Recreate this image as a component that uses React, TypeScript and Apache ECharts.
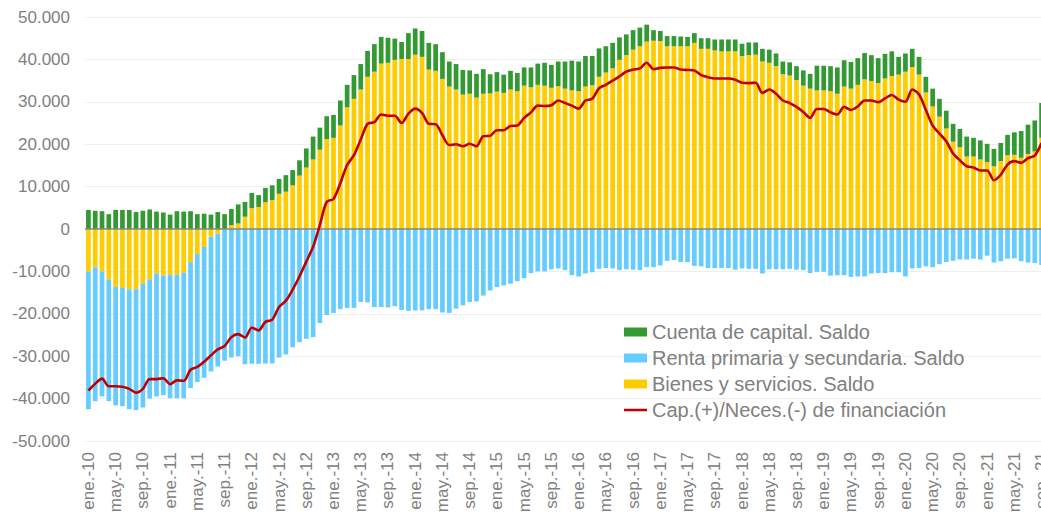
import React, { useEffect, useRef } from "react";
import * as echarts from "echarts";

const MONTHS = ["ene.", "feb.", "mar.", "abr.", "may.", "jun.", "jul.", "ago.", "sep.", "oct.", "nov.", "dic."];
const YEARS = ["10", "11", "12", "13", "14", "15", "16", "17", "18", "19", "20", "21"];
const N_MONTHS = 141; // ene.-10 .. sep.-21

// Values in thousands of millions (axis shows x1000 with Spanish thousands separator)
const bienesServicios = [
  -10.0, -9.0, -10.0, -11.9, -13.6, -13.9, -14.2, -14.2, -12.9, -11.9, -10.5, -11.0,
  -10.8, -10.8, -10.3, -7.8, -5.9, -4.2, -1.8, -1.1, -0.2, 0.9, 1.3, 2.9,
  4.9, 5.2, 6.3, 6.8, 8.3, 8.8, 10.3, 12.6, 14.5, 16.4, 18.7, 21.2,
  21.5, 24.4, 28.7, 30.7, 32.9, 35.9, 37.1, 39.0, 39.2, 39.9, 40.1, 40.1,
  41.1, 40.6, 37.6, 37.3, 35.4, 33.6, 32.9, 31.7, 31.9, 31.0, 31.9, 32.0,
  32.4, 32.1, 32.9, 32.5, 33.8, 33.4, 34.0, 33.8, 33.3, 33.7, 33.1, 32.7,
  32.5, 33.6, 33.9, 35.9, 36.9, 37.9, 39.9, 41.0, 42.3, 43.1, 44.2, 44.4,
  44.3, 43.1, 43.1, 43.1, 43.1, 43.9, 42.5, 42.5, 42.1, 41.9, 41.9, 41.9,
  40.8, 41.0, 41.1, 39.5, 39.2, 38.4, 36.5, 36.2, 35.1, 33.8, 33.1, 32.7,
  32.7, 32.5, 31.9, 33.6, 33.1, 34.0, 35.3, 34.9, 34.4, 35.5, 36.1, 36.4,
  37.1, 38.2, 36.4, 32.2, 28.9, 26.5, 23.7, 20.6, 19.3, 17.1, 17.1, 16.4,
  15.8, 14.8, 16.0, 17.4, 17.5, 16.8, 17.7, 18.3, 21.5,
];

const rentaPrimariaSecundaria = [
  -32.5, -31.6, -29.5, -28.7, -28.0, -27.9, -28.3, -28.5, -29.2, -28.1, -29.0, -28.2,
  -29.1, -29.1, -29.6, -29.7, -30.2, -30.9, -31.8, -31.3, -30.9, -30.3, -30.0, -31.9,
  -31.8, -31.8, -31.7, -31.7, -30.3, -29.6, -27.9, -26.7, -25.9, -25.5, -22.2, -20.3,
  -19.8, -18.9, -18.6, -18.6, -17.2, -17.3, -18.4, -18.4, -18.5, -18.2, -19.1, -19.3,
  -19.2, -19.2, -18.9, -18.9, -19.7, -19.8, -18.8, -18.0, -17.2, -17.1, -15.7, -14.5,
  -13.7, -13.3, -12.9, -12.3, -11.6, -10.4, -10.0, -10.0, -9.5, -9.3, -9.7, -10.9,
  -11.2, -10.5, -10.2, -9.4, -9.2, -9.3, -9.7, -9.5, -9.6, -9.7, -9.0, -9.0,
  -8.6, -7.5, -7.3, -7.8, -7.8, -8.7, -8.8, -9.2, -9.2, -9.2, -9.2, -9.6,
  -9.3, -9.4, -9.4, -10.5, -9.5, -9.5, -9.5, -9.4, -9.6, -9.7, -10.4, -10.1,
  -10.1, -11.0, -10.9, -10.9, -11.3, -11.2, -11.2, -10.5, -10.4, -10.4, -10.2, -10.2,
  -11.2, -9.3, -9.2, -8.8, -9.0, -8.3, -7.8, -7.5, -7.2, -7.2, -7.0, -7.2,
  -6.3, -7.9, -7.6, -7.0, -6.9, -7.6, -7.9, -8.0, -8.5,
];

const cuentaCapital = [
  4.5, 4.3, 4.2, 3.5, 4.5, 4.5, 4.5, 4.0, 4.3, 4.6, 4.1, 3.9,
  3.4, 4.2, 4.1, 4.2, 3.5, 3.6, 3.4, 4.0, 3.5, 3.8, 4.5, 3.5,
  3.6, 2.8, 3.4, 3.5, 3.5, 3.9, 3.6, 3.6, 4.5, 5.4, 5.2, 5.4,
  5.4, 5.9, 5.3, 5.6, 6.0, 6.1, 6.5, 6.3, 5.9, 5.0, 4.0, 6.1,
  6.2, 6.1, 6.3, 6.3, 6.3, 5.9, 6.0, 5.8, 5.5, 5.6, 5.8, 4.5,
  4.6, 4.3, 4.4, 4.3, 4.3, 4.7, 5.0, 5.4, 5.4, 5.8, 6.4, 7.0,
  7.0, 7.2, 6.9, 6.7, 6.2, 6.0, 5.3, 4.9, 4.6, 4.4, 4.0, 2.5,
  2.4, 2.4, 2.4, 2.3, 2.2, 2.3, 2.5, 2.5, 2.6, 2.8, 2.8, 2.8,
  2.9, 3.0, 2.9, 3.0, 3.1, 3.0, 3.0, 3.1, 3.3, 3.6, 3.5, 5.8,
  5.8, 5.9, 6.2, 6.2, 6.3, 6.3, 6.2, 6.1, 5.9, 5.8, 5.8, 4.2,
  4.3, 4.3, 4.2, 3.7, 4.2, 4.2, 4.2, 4.2, 4.3, 4.7, 4.4, 4.5,
  4.3, 4.1, 4.3, 4.8, 5.3, 6.3, 6.9, 7.3, 8.2,
];

const capNecFinanciacion = [
  -38.1, -36.5, -35.3, -37.1, -37.1, -37.2, -37.7, -38.6, -37.7, -35.4, -35.4, -35.2,
  -36.6, -35.7, -35.8, -33.2, -32.5, -31.3, -29.8, -28.4, -27.6, -25.5, -24.8, -25.6,
  -23.3, -23.9, -21.9, -21.4, -18.4, -16.9, -14.3, -11.2, -7.7, -4.2, 1.0, 6.4,
  7.1, 10.8, 15.1, 17.4, 21.1, 24.8, 25.2, 27.0, 26.7, 26.7, 25.0, 27.2,
  28.4, 27.4, 24.8, 24.7, 22.1, 19.8, 20.0, 19.5, 20.1, 19.5, 21.9, 22.0,
  23.3, 23.3, 24.3, 24.4, 26.2, 27.5, 29.1, 29.0, 29.2, 30.3, 29.7, 29.1,
  28.4, 30.3, 30.7, 33.2, 34.0, 35.0, 36.0, 37.1, 37.6, 37.9, 39.2, 37.7,
  38.0, 38.1, 38.1, 37.6, 37.5, 37.4, 36.3, 35.8, 35.5, 35.5, 35.5, 35.2,
  34.5, 34.4, 34.5, 32.1, 32.9, 31.9, 30.3, 29.7, 28.8, 27.6, 26.2, 28.3,
  28.3, 27.5, 27.0, 28.8, 28.1, 28.9, 30.3, 30.3, 29.9, 30.8, 31.6, 30.5,
  30.0, 32.9, 31.7, 28.1, 24.4, 22.5, 20.7, 17.8, 16.2, 14.8, 14.5, 13.8,
  13.8, 11.5, 12.8, 15.2, 16.0, 15.6, 16.7, 17.3, 20.3,
];

const SERIES_NAMES = {
  cuenta: "Cuenta de capital. Saldo",
  renta: "Renta primaria y secundaria. Saldo",
  bienes: "Bienes y servicios. Saldo",
  cap: "Cap.(+)/Neces.(-) de financiación",
};

const Y_MIN = -50;
const Y_MAX = 50;
const Y_INTERVAL = 10;

function buildCategories(): string[] {
  const cats: string[] = [];
  for (let i = 0; i < N_MONTHS; i++) {
    cats.push(MONTHS[i % 12] + "-" + YEARS[Math.floor(i / 12)]);
  }
  return cats;
}

function fmtThousands(v: number): string {
  const n = Math.round(v * 1000);
  if (n === 0) return "0";
  const s = Math.abs(n).toString().replace(/\B(?=(\d{3})+(?!\d))/g, ".");
  return (n < 0 ? "-" : "") + s;
}

const FONT = "'Liberation Sans', Arial, Helvetica, sans-serif";
const TEXT_COLOR = "#808080";
// thin horizontal bar spanning a 23x9 box (tiny corner points fix the bounding box)
const LINE_ICON = "path://M0,0L0.01,0L0.01,0.01Z M0,3.2H23V5.8H0Z M23,9L22.99,9L22.99,8.99Z";

export default function App() {
  const ref = useRef<HTMLDivElement>(null);

  useEffect(() => {
    if (!ref.current) return;
    const chart = echarts.init(ref.current, undefined, { renderer: "svg" });
    const categories = buildCategories();

    chart.setOption({
      animation: false,
      backgroundColor: "#ffffff",
      grid: {
        left: 85,
        top: 17,
        width: 960,
        bottom: 75,
        containLabel: false,
        outerBoundsMode: "none",
      },
      legend: {
        orient: "vertical",
        left: 624,
        top: 322,
        padding: 0,
        itemWidth: 23,
        itemHeight: 9,
        itemGap: 6,
        textStyle: { fontSize: 20, lineHeight: 20, color: TEXT_COLOR, fontFamily: FONT },
        data: [
          { name: SERIES_NAMES.cuenta, icon: "rect" },
          { name: SERIES_NAMES.renta, icon: "rect" },
          { name: SERIES_NAMES.bienes, icon: "rect" },
          { name: SERIES_NAMES.cap, icon: LINE_ICON, itemStyle: { color: "#c00000" } },
        ],
        selectedMode: false,
      },
      xAxis: {
        type: "category",
        data: categories,
        boundaryGap: true,
        axisLine: { show: false, onZero: false },
        axisTick: { show: false },
        axisLabel: {
          interval: 3,
          rotate: 90,
          margin: 11,
          fontSize: 17,
          color: TEXT_COLOR,
          fontFamily: FONT,
        },
        splitLine: { show: false },
      },
      yAxis: {
        type: "value",
        min: Y_MIN,
        max: Y_MAX,
        interval: Y_INTERVAL,
        axisLine: { show: false },
        axisTick: { show: false },
        axisLabel: {
          margin: 15,
          fontSize: 17,
          color: TEXT_COLOR,
          fontFamily: FONT,
          formatter: (v: number) => fmtThousands(v),
        },
        splitLine: { lineStyle: { color: "#eeeeee", width: 1 } },
      },
      series: [
        {
          name: SERIES_NAMES.bienes,
          type: "bar",
          stack: "total",
          data: bienesServicios,
          barCategoryGap: "31%",
          itemStyle: { color: "#ffcc00" },
        },
        {
          name: SERIES_NAMES.renta,
          type: "bar",
          stack: "total",
          data: rentaPrimariaSecundaria,
          barCategoryGap: "31%",
          itemStyle: { color: "#66ccff" },
        },
        {
          name: SERIES_NAMES.cuenta,
          type: "bar",
          stack: "total",
          data: cuentaCapital,
          barCategoryGap: "31%",
          itemStyle: { color: "#339933" },
        },
        {
          name: SERIES_NAMES.cap,
          type: "line",
          data: capNecFinanciacion,
          symbol: "none",
          showSymbol: false,
          smooth: 0.3,
          z: 5,
          lineStyle: { color: "#c00000", width: 2.6 },
          itemStyle: { color: "#c00000" },
          markLine: {
            silent: true,
            symbol: "none",
            label: { show: false },
            lineStyle: { color: "#868686", width: 1.5, type: "solid" },
            data: [{ yAxis: 0 }],
            z: 4,
          },
        },
      ],
    });

    return () => {
      chart.dispose();
    };
  }, []);

  return (
    <div
      style={{
        position: "absolute",
        left: 0,
        top: 0,
        width: 1041,
        height: 516,
        overflow: "hidden",
        background: "#ffffff",
      }}
    >
      <div ref={ref} style={{ width: 1062, height: 516 }} />
    </div>
  );
}
